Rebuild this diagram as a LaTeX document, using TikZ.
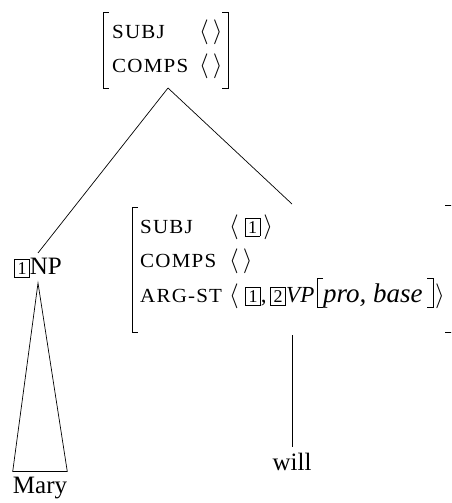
\documentclass[tikz,border=0pt]{standalone}
\usepackage{amsmath}
\usepackage{fontspec}
\setmainfont{Liberation Serif}
\newfontfamily\featfont[LetterSpace=6,FakeStretch=1.05]{Liberation Serif}
\usetikzlibrary{positioning}

\setlength{\fboxsep}{2.6pt}
\setlength{\fboxrule}{0.7pt}
\newcommand{\tagbox}[1]{\fbox{\fontsize{18}{18}\selectfont #1}}

\tikzset{
  feat/.style={anchor=base west, inner sep=0pt, font=\featfont\fontsize{20}{20}\selectfont},
  val/.style={anchor=base west, inner sep=0pt, font=\fontsize{23}{23}\selectfont},
  ital/.style={val, font=\itshape\fontsize{23}{23}\selectfont},
  word/.style={inner xsep=0pt, inner ysep=5pt, font=\fontsize{25}{25}\selectfont},
  branch/.style={line width=0.7pt},
  brack/.style={line width=0.9pt},
}

\begin{document}
\begin{tikzpicture}[x=1pt, y=-1pt]
\useasboundingbox (0,0) rectangle (451,503);
\clip (0,0) rectangle (451,503);

% mother AVM
\draw[brack] (109,12) -- (103,12) -- (103,88) -- (109,88);
\draw[brack] (222,12) -- (228,12) -- (228,88) -- (222,88);
\node[feat] (subjtop) at (112,38) {SUBJ};
\node[feat] (compstop) at (112,72) {COMPS};
\node[val] (subjtopval) at (199,38) {$\langle\,\rangle$};
\node[val] (compstopval) at (199,72) {$\langle\,\rangle$};
\coordinate (mother) at (168,88);

% head daughter AVM
\draw[brack] (138,207) -- (132,207) -- (132,332) -- (138,332);
\draw[brack] (445,205) -- (456,205) -- (456,332) -- (445,332);
\node[feat] (subj) at (140,233) {SUBJ};
\node[feat] (comps) at (140,267) {COMPS};
\node[feat] (argst) at (140,302) {ARG-ST};
\node[val] (subjval) at (229,233) {$\langle$\hspace{6pt}\tagbox{1}\hspace{3pt}$\rangle$};
\node[val] (compsval) at (229,267) {$\langle\,\rangle$};
% ARG-ST value, piece by piece
\node[val] (argopen) at (229,302) {$\langle$};
\node[val] (argone) at (245,302) {\tagbox{1},};
\node[val] (argtwo) at (270,302) {\tagbox{2}};
\node[ital] (vp) at (286,302) {VP};
\draw[branch] (323,278) -- (317,278) -- (317,307) -- (323,307);
\node[ital, font=\itshape\fontsize{27}{27}\selectfont] (vpfeat) at (323,302) {pro, base};
\draw[branch] (427,278) -- (433,278) -- (433,307) -- (427,307);
\node[val] (argclose) at (435,302) {$\rangle$};
\coordinate (head) at (292,204);
\coordinate (headfoot) at (292,335);

% daughters and words
\node[word, anchor=center] (np) at (38,268) {\tagbox{1}NP};
\node[word, anchor=base] (mary) at (40,493) {Mary};
\node[word, anchor=base] (will) at (292,470) {will};

\draw[branch] (mother) -- (np.north);
\draw[branch] (mother) -- (head);
\draw[branch] (headfoot) -- (will.north);
\draw[branch] (np.south) -- (mary.north west) -- (mary.north east) -- cycle;
\end{tikzpicture}
\end{document}
